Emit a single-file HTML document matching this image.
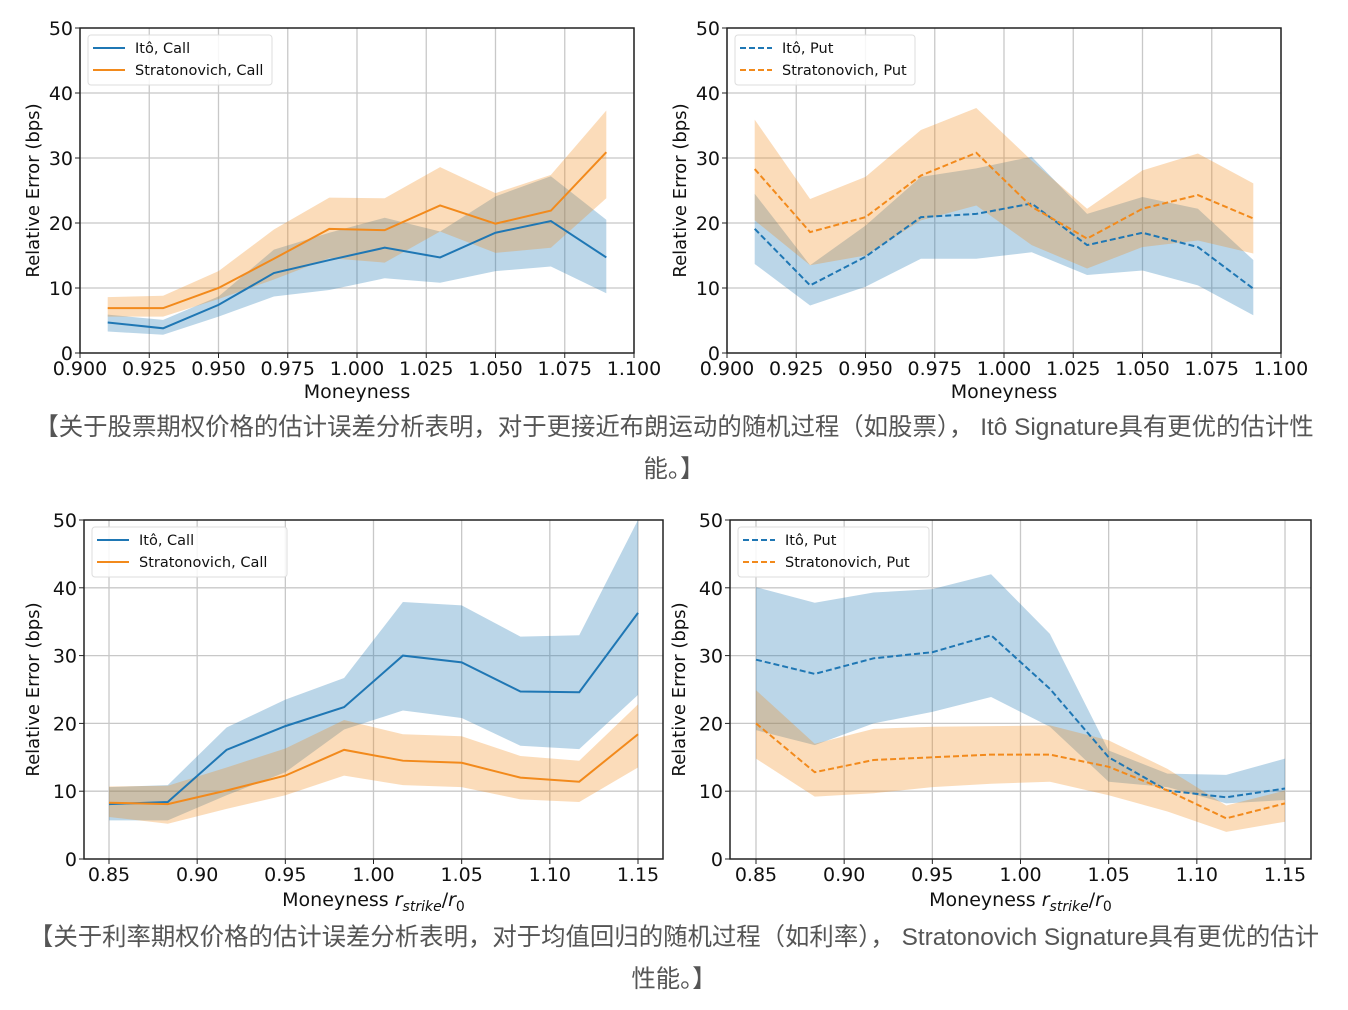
<!DOCTYPE html>
<html><head><meta charset="utf-8">
<style>
body{margin:0;background:#fff;width:1348px;height:1010px;overflow:hidden;position:relative;font-family:"DejaVu Sans","Liberation Sans",sans-serif}
.cap{position:absolute;left:0;width:1348px;text-align:center;color:#555;font-family:"Liberation Sans","Noto Sans CJK SC",sans-serif;font-size:24.4px;line-height:42px}
svg{position:absolute;left:0;top:0}
</style></head><body>
<svg id="s" width="1348" height="1010" xmlns="http://www.w3.org/2000/svg"></svg>
<div class="cap" style="top:407px">【关于股票期权价格的估计误差分析表明，对于更接近布朗运动的随机过程（如股票）， Itô Signature具有更优的估计性<br>能。】</div>
<div class="cap" style="top:917px">【关于利率期权价格的估计误差分析表明，对于均值回归的随机过程（如利率）， Stratonovich Signature具有更优的估计<br>性能。】</div>
<script>
const B='#1f77b4',O='#f28a1c';
const panels=[
{x0:80,x1:634,y0:28,y1:353,xmin:0.9,xmax:1.1,ticks:['0.900','0.925','0.950','0.975','1.000','1.025','1.050','1.075','1.100'],tv:[0.9,0.925,0.95,0.975,1,1.025,1.05,1.075,1.1],
 xs:[0.91,0.93,0.95,0.97,0.99,1.01,1.03,1.05,1.07,1.09],dash:false,leg:['Itô, Call','Stratonovich, Call'],lw:184,xl:'Moneyness',lo:41,
 a:[4.7,3.8,7.4,12.3,14.3,16.2,14.7,18.5,20.3,14.7],au:[5.9,5.1,8.7,15.9,18.5,20.8,18.7,24.1,27.2,20.5],al:[3.3,2.8,5.6,8.7,9.7,11.5,10.8,12.6,13.3,9.2],
 b:[6.9,6.9,10,14.5,19.1,18.9,22.7,19.9,21.9,30.9],bu:[8.6,8.8,12.6,19,23.9,23.8,28.6,24.6,27.4,37.3],bl:[5.6,5.6,8.3,11.3,14.6,13.9,18.7,15.4,16.2,23.8]},
{x0:727,x1:1281,y0:28,y1:353,xmin:0.9,xmax:1.1,ticks:['0.900','0.925','0.950','0.975','1.000','1.025','1.050','1.075','1.100'],tv:[0.9,0.925,0.95,0.975,1,1.025,1.05,1.075,1.1],
 xs:[0.91,0.93,0.95,0.97,0.99,1.01,1.03,1.05,1.07,1.09],dash:true,leg:['Itô, Put','Stratonovich, Put'],lw:180,xl:'Moneyness',lo:41,
 a:[19.1,10.4,14.8,20.9,21.4,23,16.6,18.5,16.3,9.9],au:[24.5,13.5,19.6,27.1,28.4,30.2,21.4,24,22.2,14.3],al:[13.7,7.3,10.2,14.5,14.5,15.5,12,12.7,10.4,5.8],
 b:[28.3,18.6,20.9,27.3,30.8,22.5,17.6,22.2,24.3,20.7],bu:[35.9,23.7,27.1,34.3,37.7,29.6,22.2,28.1,30.7,26.1],bl:[20.4,13.5,15,20.4,22.7,16.6,13,16.3,17.3,15.3]},
{x0:84,x1:663,y0:520,y1:859,xmin:0.83582,xmax:1.16418,ticks:['0.85','0.90','0.95','1.00','1.05','1.10','1.15'],tv:[0.85,0.9,0.95,1,1.05,1.1,1.15],
 xs:[0.85,0.88333,0.91667,0.95,0.98333,1.01667,1.05,1.08333,1.11667,1.15],dash:false,leg:['Itô, Call','Stratonovich, Call'],lw:195,xl:'r',lo:45,
 a:[8.1,8.4,16.1,19.6,22.4,30,29,24.7,24.6,36.3],au:[10.6,10.9,19.4,23.5,26.7,37.9,37.4,32.8,33,50],al:[5.7,5.7,9.4,12.8,19.1,21.9,20.8,16.7,16.2,24.2],
 b:[8.3,8.1,10.1,12.3,16.1,14.5,14.2,12,11.4,18.4],bu:[10.7,10.8,13.5,16.3,20.5,18.4,18.1,15.2,14.5,22.8],bl:[6.2,5.2,7.4,9.4,12.3,10.9,10.6,8.8,8.4,13.5]},
{x0:730,x1:1311,y0:520,y1:859,xmin:0.83526,xmax:1.16474,ticks:['0.85','0.90','0.95','1.00','1.05','1.10','1.15'],tv:[0.85,0.9,0.95,1,1.05,1.1,1.15],
 xs:[0.85,0.88333,0.91667,0.95,0.98333,1.01667,1.05,1.08333,1.11667,1.15],dash:true,leg:['Itô, Put','Stratonovich, Put'],lw:191,xl:'r',lo:45,
 a:[29.4,27.3,29.6,30.5,33,25.1,15,10.1,9.1,10.4],au:[40.1,37.8,39.3,39.8,42,33.2,16,12.6,12.4,14.8],al:[19,16.8,20,21.7,23.9,19.5,11.4,10.6,8.2,8.7],
 b:[20,12.8,14.6,15,15.4,15.4,13.6,10.1,6,8.2],bu:[24.9,17,19.2,19.5,19.6,19.7,17.5,13.3,7.9,10.1],bl:[14.8,9.2,9.7,10.6,11.1,11.4,9.4,7,4,5.5]}
];
let h='';
for(const p of panels){
 const X=v=>p.x0+(v-p.xmin)/(p.xmax-p.xmin)*(p.x1-p.x0);
 const Y=v=>p.y1-v/50*(p.y1-p.y0);
 h+=`<defs><clipPath id="c${p.x0}${p.y0}"><rect x="${p.x0}" y="${p.y0}" width="${p.x1-p.x0}" height="${p.y1-p.y0}"/></clipPath></defs>`;
 for(const t of p.tv){const x=X(t);h+=`<line x1="${x}" x2="${x}" y1="${p.y0}" y2="${p.y1}" stroke="#c8c8c8" stroke-width="1.3"/>`;}
 for(let v=10;v<50;v+=10){h+=`<line x1="${p.x0}" x2="${p.x1}" y1="${Y(v)}" y2="${Y(v)}" stroke="#c8c8c8" stroke-width="1.3"/>`;}
 const band=(u,l,c)=>{let pts=p.xs.map((x,i)=>X(x)+','+Y(u[i])).concat(p.xs.map((x,i)=>X(x)+','+Y(l[i])).reverse());return `<polygon points="${pts.join(' ')}" fill="${c}" fill-opacity="0.3" clip-path="url(#c${p.x0}${p.y0})"/>`;};
 const line=(d,c)=>`<polyline points="${p.xs.map((x,i)=>X(x)+','+Y(d[i])).join(' ')}" fill="none" stroke="${c}" stroke-width="2"${p.dash?' stroke-dasharray="6,3"':''}/>`;
 h+=band(p.au,p.al,B)+band(p.bu,p.bl,O)+line(p.a,B)+line(p.b,O);
 h+=`<rect x="${p.x0}" y="${p.y0}" width="${p.x1-p.x0}" height="${p.y1-p.y0}" fill="none" stroke="#222" stroke-width="1.5"/>`;
 for(let i=0;i<p.tv.length;i++){const x=X(p.tv[i]);h+=`<line x1="${x}" x2="${x}" y1="${p.y1}" y2="${p.y1+5}" stroke="#222"/><text x="${x}" y="${p.y1+22}" font-size="19" text-anchor="middle" fill="#111">${p.ticks[i]}</text>`;}
 for(let v=0;v<=50;v+=10){h+=`<line x1="${p.x0-5}" x2="${p.x0}" y1="${Y(v)}" y2="${Y(v)}" stroke="#222"/><text x="${p.x0-7}" y="${Y(v)+7}" font-size="19" text-anchor="end" fill="#111">${v}</text>`;}
 const cy=(p.y0+p.y1)/2, lx=p.x0-p.lo;
 h+=`<text transform="translate(${lx},${cy}) rotate(-90)" font-size="18" text-anchor="middle" fill="#111">Relative Error (bps)</text>`;
 const mx=(p.x0+p.x1)/2;
 if(p.xl==='r') h+=`<text x="${mx}" y="${p.y1+47}" font-size="19" text-anchor="middle" fill="#111">Moneyness <tspan font-style="italic">r</tspan><tspan font-style="italic" font-size="14" dy="5">strike</tspan><tspan dy="-5">/</tspan><tspan font-style="italic">r</tspan><tspan font-size="14" dy="5">0</tspan></text>`;
 else h+=`<text x="${mx}" y="${p.y1+45}" font-size="19" text-anchor="middle" fill="#111">Moneyness</text>`;
 const lx0=p.x0+8, ly0=p.y0+7;
 h+=`<rect x="${lx0}" y="${ly0}" width="${p.lw}" height="50" rx="3" fill="#fff" fill-opacity="0.85" stroke="#ddd"/>`;
 h+=`<line x1="${lx0+5}" x2="${lx0+37}" y1="${ly0+13}" y2="${ly0+13}" stroke="${B}" stroke-width="2"${p.dash?' stroke-dasharray="6,3"':''}/><text x="${lx0+47}" y="${ly0+18}" font-size="14.5" fill="#111">${p.leg[0]}</text>`;
 h+=`<line x1="${lx0+5}" x2="${lx0+37}" y1="${ly0+35}" y2="${ly0+35}" stroke="${O}" stroke-width="2"${p.dash?' stroke-dasharray="6,3"':''}/><text x="${lx0+47}" y="${ly0+40}" font-size="14.5" fill="#111">${p.leg[1]}</text>`;
}
document.getElementById('s').innerHTML=h;
</script>
</body></html>
